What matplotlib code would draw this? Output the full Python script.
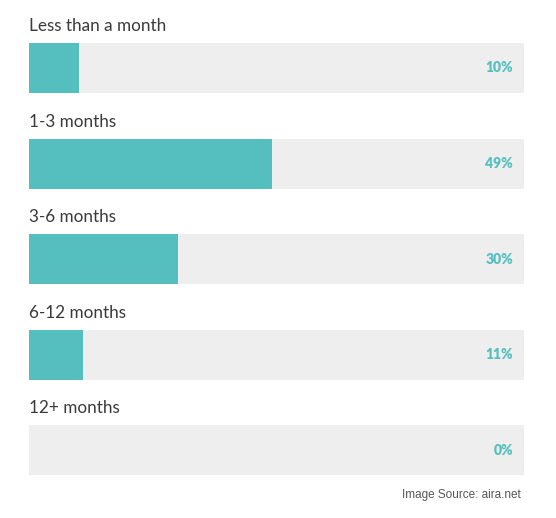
import matplotlib.pyplot as plt

categories = ["Less than a month", "1-3 months", "3-6 months", "6-12 months", "12+ months"]
values = [10, 49, 30, 11, 0]
source = "Image Source: aira.net"

TEAL = "#54bfbe"
TRACK = "#eeeeee"

W, H = 556, 518
fig = plt.figure(figsize=(W / 100, H / 100), dpi=100)
# axes spans bar track horizontally, full height vertically (pixel units on y)
ax = fig.add_axes([29 / W, 0, (524 - 29) / W, 1])
ax.set_xlim(0, 100)
ax.set_ylim(H, 0)
ax.axis("off")

first, step, bar_h = 68, 95.6, 50
centers = [first + i * step for i in range(len(categories))]

ax.barh(centers, [100] * len(values), height=bar_h, color=TRACK, left=0)
ax.barh(centers, values, height=bar_h, color=TEAL, left=0)

for c, cat, v in zip(centers, categories, values):
    ax.text(0, c - bar_h / 2 - 9, cat, ha="left", va="bottom",
            fontsize=12.3, family="Lato", color="#3a3a3a")
    ax.text(97.8, c, f"{v}%", ha="right", va="center",
            fontsize=10, family="Lato", fontweight="heavy", color=TEAL)

fig.text(521 / W, 1 - 495 / H, source, ha="right", va="center",
         fontsize=8.5, family="Liberation Sans", color="#555555")

fig.savefig("out.png", dpi=100)
